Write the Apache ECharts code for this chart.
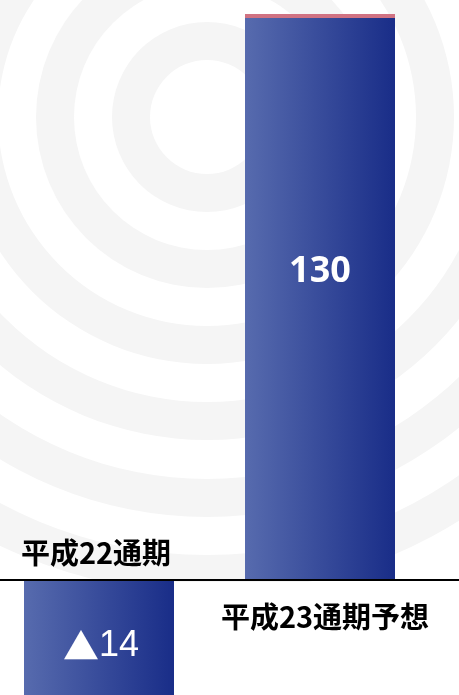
<!DOCTYPE html>
<html><head><meta charset="utf-8">
<script src="https://cdn.jsdelivr.net/npm/echarts@6/dist/echarts.min.js"></script>
<style>html,body{margin:0;padding:0;background:#fff}#c{width:459px;height:695px}</style>
</head><body><div id="c"></div>
<script>
// ---- data ----
const categories = ['平成22通期', '平成23通期予想'];
const values = [-14, 130];
// visible value window (the 130 bar is cut at the top of the frame)
const axisMin = -14;
const axisMax = 63;

// ---- decoration (background rings) ----
const ringBands = [[57,95],[133,171],[209,247],[285,323],[362,400],[438,476]];
const graphics = ringBands.map(b => ({
  type: 'ring', silent: true, z: -10,
  shape: { cx: 207, cy: 117, r0: b[0], r: b[1] },
  style: { fill: '#f5f5f5' }
}));
graphics.push({ type: 'rect', silent: true, z: -9,
  shape: { x: 0, y: 582, width: 459, height: 113 }, style: { fill: '#ffffff' } });

const barGradient = { type: 'linear', x: 0, y: 0, x2: 1, y2: 0,
  colorStops: [{ offset: 0, color: '#576bae' }, { offset: 1, color: '#192d88' }] };

const seriesData = values.map(v => {
  const item = { value: v };
  if (v > 0) {
    item.itemStyle = { shadowColor: '#d07282', shadowBlur: 0, shadowOffsetY: -4, shadowOffsetX: 0 };
    item.label = { offset: [0, -27], fontFamily: 'Open Sans', fontWeight: 'bold', fontSize: 36 };
  } else {
    item.label = { offset: [2, 4] };
  }
  return item;
});

const catLabel = { color: '#000', fontFamily: 'Noto Sans CJK JP', fontWeight: 'bold', fontSize: 29, interval: 0 };
const hiddenY = gi => ({ gridIndex: gi, type: 'value', min: axisMin, max: axisMax, show: false });
const gridBase = { outerBoundsMode: 'none', containLabel: false };
const g = o => Object.assign({}, gridBase, o);

const chart = echarts.init(document.getElementById('c'), null, { renderer: 'canvas' });
chart.setOption({
  animation: false,
  backgroundColor: '#ffffff',
  graphic: graphics,
  grid: [
    g({ left: -11.5, right: 28.5, top: 18, bottom: -9.9 }),   // bars
    g({ left: 0, right: 0, top: 18, bottom: -9.9 }),          // full-width zero line
    g({ left: -11.5, right: 28.5, top: 0, bottom: 115 }),     // labels below the zero line
    g({ left: -11.5, right: 28.5, top: 580, bottom: 0 })      // labels above the zero line
  ],
  xAxis: [
    { gridIndex: 0, type: 'category', data: categories, show: false },
    { gridIndex: 1, type: 'category', data: [''], z: 10,
      axisLine: { show: true, onZero: true, lineStyle: { color: '#000', width: 2 } },
      axisTick: { show: false }, axisLabel: { show: false }, splitLine: { show: false } },
    { gridIndex: 2, type: 'category', data: categories, position: 'bottom',
      axisLine: { show: false }, axisTick: { show: false }, splitLine: { show: false },
      axisLabel: Object.assign({}, catLabel, { margin: 22, padding: [0, 0, 0, 10],
        formatter: (v, i) => (i === 1 ? v : '') }) },
    { gridIndex: 3, type: 'category', data: categories, position: 'top',
      axisLine: { show: false }, axisTick: { show: false }, splitLine: { show: false },
      axisLabel: Object.assign({}, catLabel, { margin: 13, padding: [0, 6, 0, 0],
        formatter: (v, i) => (i === 0 ? v : '') }) }
  ],
  yAxis: [hiddenY(0), hiddenY(1), hiddenY(2), hiddenY(3)],
  series: [{
    type: 'bar', xAxisIndex: 0, yAxisIndex: 0,
    barWidth: 150,
    data: seriesData,
    itemStyle: { color: barGradient },
    label: { show: true, position: 'inside', color: '#ffffff',
      formatter: p => (p.value < 0 ? '{t|▲}{n|' + Math.abs(p.value) + '}' : String(p.value)),
      rich: {
        t: { fontFamily: 'Noto Sans CJK JP', fontSize: 36, color: '#ffffff' },
        n: { fontFamily: 'Liberation Sans', fontSize: 36, color: '#ffffff' }
      } }
  }]
});
</script>
</body></html>
